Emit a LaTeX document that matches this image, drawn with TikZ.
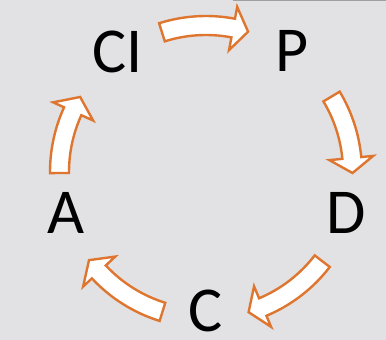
\documentclass[tikz,border=0pt]{standalone}
\usepackage{fontspec}
\setmainfont{Carlito}
\definecolor{arrowline}{RGB}{222,118,48}
\definecolor{paper}{RGB}{226,225,227}
% tail angle, head-base angle, tip angle (clockwise arrow on the cycle circle)
\newcommand\cyclarrow[3]{%
  \draw[cyclearrow] ([shift={(O)}]#1:156) arc[start angle=#1, end angle=#2, radius=156]
    -- ([shift={(O)}]#2:168) -- ([shift={(O)}]#3:146.5) -- ([shift={(O)}]#2:124)
    -- ([shift={(O)}]#2:137) arc[start angle=#2, end angle=#1, radius=137] -- cycle;}
\begin{document}
\begin{tikzpicture}[x=1pt,y=1pt,
  letter/.style={font=\fontsize{64}{64}\selectfont, anchor=base, inner sep=0pt, text=black},
  cyclearrow/.style={draw=arrowline, fill=white, line width=2.4pt, line join=miter}]
\fill[paper] (0,0) rectangle (386,340);
\useasboundingbox (0,0) rectangle (386,340);
\fill[gray!75] (233,338.5) rectangle (386,340);
\coordinate (O) at (206,168);
% letters
\node[letter] (ci) at (118,267) {CI};
\node[letter] (p)  at (292,268) {P};
\node[letter] (d)  at (346,106) {D};
\node[letter] (c)  at (206,8)   {C};
\node[letter] (a)  at (66,106)  {A};
% cycle arrows
\cyclarrow{107.5}{79.3}{73.3}
\cyclarrow{31}{5.5}{-0.4}
\cyclarrow{-37.5}{-67.2}{-73.1}
\cyclarrow{252.7}{223}{217}
\cyclarrow{180.4}{155.5}{149.2}
\end{tikzpicture}
\end{document}
